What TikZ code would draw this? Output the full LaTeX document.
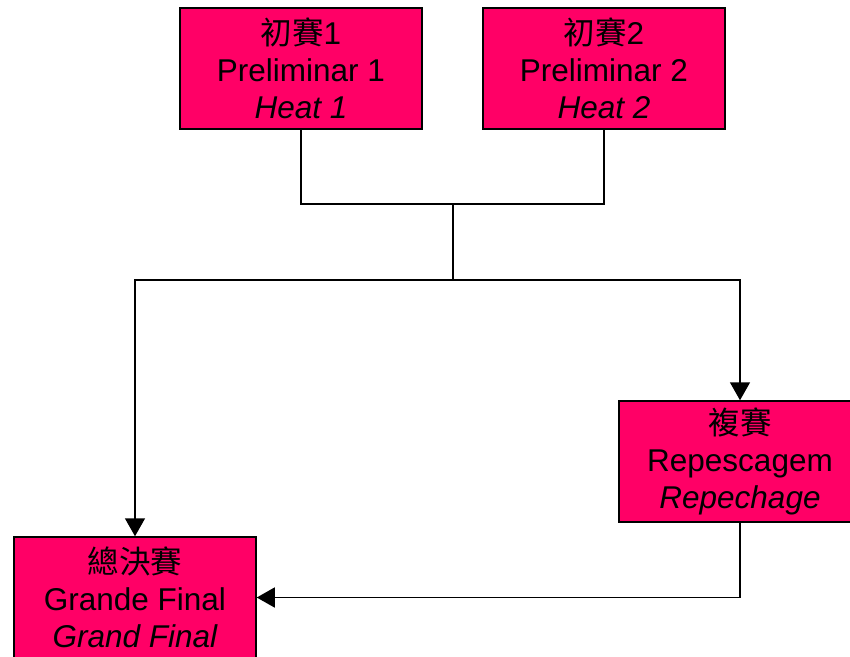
\documentclass[tikz,border=0pt]{standalone}
\usepackage{fontspec}
\setmainfont{Liberation Sans}
\newfontfamily\cjk{Noto Sans CJK TC}
\usetikzlibrary{arrows.meta}
\definecolor{racered}{HTML}{FF0066}
\tikzset{
  race/.style = {draw, line width = 1.5pt, fill = racered, align = center,
    minimum width = 242pt, minimum height = 121pt, inner sep = 0pt,
    font = \fontsize{31.5}{37}\selectfont},
  link/.style = {line width = 1.5pt},
  arrow/.style = {link, -{Triangle[length = 18pt, width = 20pt]}}
}

\begin{document}
\begin{tikzpicture}[x = 1pt, y = 1pt]
    \useasboundingbox (0, 0) rectangle (850, -656);
    \node[race] (heat 1) at (301, -68.5) {{\cjk 初賽}1 \\ Preliminar 1 \\ \itshape Heat 1};
    \node[race] (heat 2) at (604, -68.5) {{\cjk 初賽}2 \\ Preliminar 2 \\ \itshape Heat 2};
    \node[race] (repechage) at (740, -461.5) {{\cjk 複賽} \\ Repescagem \\ \itshape Repechage};
    \node[race] (grand final) at (135, -597.5) {{\cjk 總決賽} \\ Grande Final \\ \itshape Grand Final};
    \coordinate (merge) at (453, -204);
    \coordinate (split) at (453, -280);
    \draw[link] (heat 1.south) |- (merge) -| (heat 2.south);
    \draw[link] (merge) -- (split);
    \draw[arrow] (split) -| (grand final.north);
    \draw[arrow] (split) -| (repechage.north);
    \draw[arrow] (repechage.south) |- (grand final.east);
  \end{tikzpicture}
\end{document}
